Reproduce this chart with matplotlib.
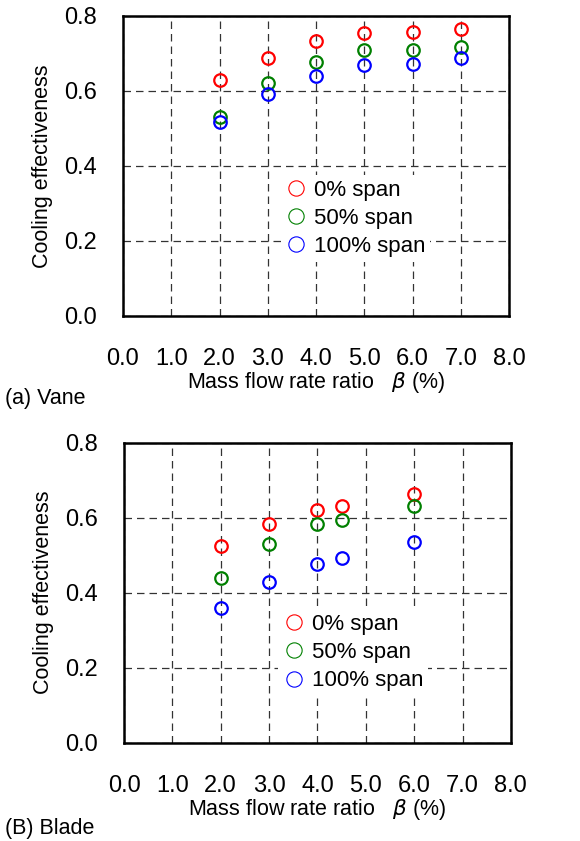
#Cooling effectiveness vs mass flow rate ratio, vane and blade

import matplotlib.pyplot as plt

plt.rcParams['font.family'] = ['Liberation Sans', 'DejaVu Sans']

span_labels = ["0% span", "50% span", "100% span"]
span_colors = ["#ff0000", "#008000", "#0000ff"]

# ----------Vane data----------
vane_beta = [2.0, 3.0, 4.0, 5.0, 6.0, 7.0]
vane_eff = [
    [0.630, 0.689, 0.732, 0.754, 0.758, 0.764],
    [0.531, 0.620, 0.678, 0.710, 0.710, 0.716],
    [0.518, 0.592, 0.640, 0.668, 0.673, 0.689],
]

# ----------Blade data----------
blade_beta = [2.0, 3.0, 4.0, 4.5, 6.0]
blade_eff = [
    [0.524, 0.583, 0.621, 0.631, 0.664],
    [0.439, 0.530, 0.583, 0.594, 0.631],
    [0.359, 0.428, 0.477, 0.493, 0.535],
]

x_ticks = [0, 1, 2, 3, 4, 5, 6, 7, 8]
y_ticks = [0.0, 0.2, 0.4, 0.6, 0.8]


def draw_panel(ax, beta, eff, legend_anchor):
    for vals, lab, col in zip(eff, span_labels, span_colors):
        ax.plot(beta, vals, linestyle="none", marker="o", markersize=9,
                markerfacecolor="none", markeredgecolor=col,
                markeredgewidth=1.6, label=lab)
    ax.set_xlim(0, 8)
    ax.set_ylim(0, 0.8)
    ax.set_xticks(x_ticks)
    ax.set_xticklabels(["%.1f" % v for v in x_ticks])
    ax.set_yticks(y_ticks)
    ax.set_yticklabels(["%.1f" % v for v in y_ticks])
    ax.tick_params(length=0, labelsize=17)
    ax.tick_params(axis="x", pad=23)
    ax.tick_params(axis="y", pad=19)
    ax.grid(True, color="#333333", linestyle=(0, (6, 4)), linewidth=0.9)
    for s in ax.spines.values():
        s.set_linewidth(1.8)
    ax.set_ylabel("Cooling effectiveness", fontsize=15.5, labelpad=8)
    ax.set_xlabel(r"Mass flow rate ratio   $\beta$ (%)", fontsize=15.5, labelpad=0)
    leg = ax.legend(loc="center left", bbox_to_anchor=legend_anchor,
                    fontsize=16, frameon=True, handletextpad=0.3,
                    labelspacing=0.32, borderpad=0.2, handlelength=1.0)
    leg.get_frame().set_edgecolor("none")
    leg.get_frame().set_facecolor("white")
    leg.get_frame().set_alpha(1.0)
    for h in leg.legend_handles:
        h.set_markeredgewidth(0.8)
        h.set_markersize(11)


fig = plt.figure(figsize=(5.8, 8.41), dpi=100)

#----------Vane----------
ax1 = fig.add_axes([0.212, 0.6243, 0.666, 0.3567])
draw_panel(ax1, vane_beta, vane_eff, (0.38, 0.325))
fig.text(0.008, 0.526, "(a) Vane", fontsize=15.5, va="center")

#----------Blade----------
ax2 = fig.add_axes([0.2138, 0.1169, 0.667, 0.3567])
draw_panel(ax2, blade_beta, blade_eff, (0.37, 0.30))
fig.text(0.008, 0.015, "(B) Blade", fontsize=15.5, va="center")

plt.savefig("out.png", dpi=100)
